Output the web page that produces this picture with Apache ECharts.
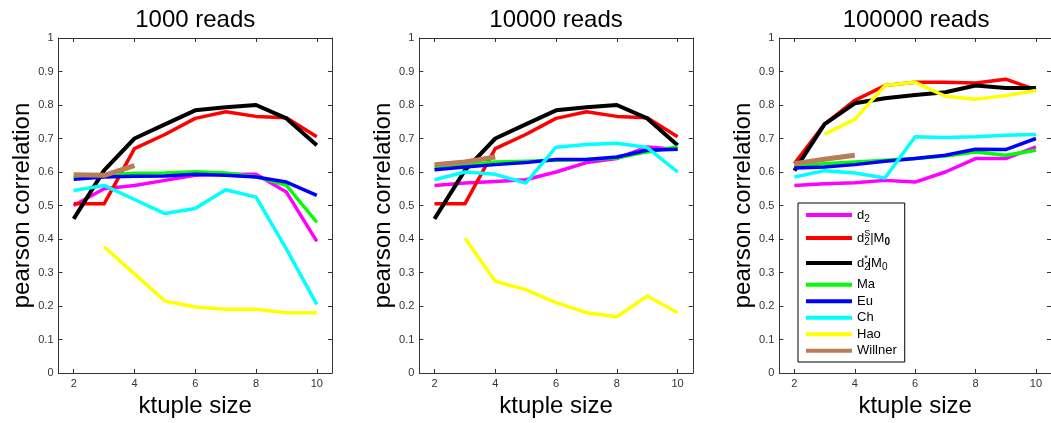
<!DOCTYPE html>
<html>
<head>
<meta charset="utf-8">
<script src="https://cdn.jsdelivr.net/npm/echarts@6/dist/echarts.min.js"></script>
<style>
  html, body { margin: 0; padding: 0; background: #fff; }
  #chart { width: 1051px; height: 423px; }
</style>
</head>
<body>
<div id="chart"></div>
<script>
// ---- data ----
const ktuple = [2, 3, 4, 5, 6, 7, 8, 9, 10];
const panelTitles = ['1000 reads', '10000 reads', '100000 reads'];
const seriesNames = ['d2', 'd2S|M0', 'd2*|M0', 'Ma', 'Eu', 'Ch', 'Hao', 'Willner'];
const xTicks = [2, 4, 6, 8, 10];

// 1000 reads
const r1_d2      = [0.500, 0.550, 0.560, 0.575, 0.590, 0.593, 0.593, 0.540, 0.393];
const r1_d2S     = [0.505, 0.505, 0.670, 0.712, 0.760, 0.780, 0.766, 0.762, 0.705];
const r1_d2star  = [0.460, 0.605, 0.700, 0.742, 0.784, 0.793, 0.800, 0.760, 0.680];
const r1_Ma      = [0.585, 0.590, 0.596, 0.597, 0.601, 0.597, 0.586, 0.560, 0.450];
const r1_Eu      = [0.578, 0.585, 0.587, 0.588, 0.593, 0.590, 0.585, 0.570, 0.530];
const r1_Ch      = [0.545, 0.560, 0.518, 0.476, 0.491, 0.547, 0.525, 0.370, 0.205];
const r1_Hao     = [null, 0.377, 0.296, 0.215, 0.197, 0.190, 0.190, 0.180, 0.180];
const r1_Willner = [0.592, 0.590, 0.619, null, null, null, null, null, null];

// 10000 reads
const r2_d2      = [0.560, 0.567, 0.572, 0.577, 0.600, 0.628, 0.640, 0.675, 0.667];
const r2_d2S     = [0.505, 0.505, 0.670, 0.712, 0.760, 0.780, 0.766, 0.762, 0.705];
const r2_d2star  = [0.460, 0.605, 0.700, 0.742, 0.784, 0.793, 0.800, 0.760, 0.680];
const r2_Ma      = [0.615, 0.620, 0.630, 0.632, 0.635, 0.637, 0.642, 0.660, 0.675];
const r2_Eu      = [0.607, 0.615, 0.622, 0.628, 0.637, 0.637, 0.645, 0.665, 0.668];
const r2_Ch      = [0.577, 0.600, 0.593, 0.567, 0.674, 0.682, 0.686, 0.673, 0.600];
const r2_Hao     = [null, 0.402, 0.274, 0.249, 0.210, 0.180, 0.168, 0.230, 0.180];
const r2_Willner = [0.622, 0.630, 0.645, null, null, null, null, null, null];

// 100000 reads
const r3_d2      = [0.560, 0.565, 0.568, 0.575, 0.570, 0.600, 0.640, 0.640, 0.675];
const r3_d2S     = [0.625, 0.743, 0.814, 0.858, 0.868, 0.868, 0.866, 0.877, 0.845];
const r3_d2star  = [0.604, 0.743, 0.805, 0.820, 0.830, 0.838, 0.858, 0.851, 0.851];
const r3_Ma      = [0.618, 0.625, 0.630, 0.635, 0.640, 0.648, 0.660, 0.650, 0.665];
const r3_Eu      = [0.612, 0.615, 0.622, 0.632, 0.640, 0.650, 0.668, 0.667, 0.700];
const r3_Ch      = [0.585, 0.604, 0.597, 0.582, 0.705, 0.703, 0.705, 0.710, 0.712];
const r3_Hao     = [null, 0.713, 0.757, 0.858, 0.868, 0.826, 0.817, 0.828, 0.843];
const r3_Willner = [0.625, 0.638, 0.650, null, null, null, null, null, null];

const panels = [
  [r1_d2, r1_d2S, r1_d2star, r1_Ma, r1_Eu, r1_Ch, r1_Hao, r1_Willner],
  [r2_d2, r2_d2S, r2_d2star, r2_Ma, r2_Eu, r2_Ch, r2_Hao, r2_Willner],
  [r3_d2, r3_d2S, r3_d2star, r3_Ma, r3_Eu, r3_Ch, r3_Hao, r3_Willner]
];

// ---- styles ----
const colors = ['#ff00ff', '#ff0000', '#000000', '#00ff00', '#0000ff', '#00ffff', '#ffff00', '#b97d5a'];
const widths = [3.5, 3.5, 4, 3.5, 3.5, 3.5, 3.5, 5];
const FONT = 'Liberation Sans, Arial, Helvetica, sans-serif';
const AX = '#333';
const gridLefts = [58.5, 419.3, 779.3];
const gridW = 273.5, gridTop = 38, gridH = 338;

const legendLabels = {
  'd2': '{h23| }d{sub|2}',
  'd2S|M0': '{h23| }d{subz|2}{sup|S}|M{subb|0}',
  'd2*|M0': '{h27| }d{subz|2}{sup|*}|M{sub|0}',
  'Ma': 'Ma', 'Eu': 'Eu', 'Ch': 'Ch', 'Hao': 'Hao', 'Willner': 'Willner'
};

const grid = [], xAxis = [], yAxis = [], series = [], title = [];
panels.forEach((vals, p) => {
  grid.push({ left: gridLefts[p], top: gridTop, width: gridW, height: gridH, containLabel: false });
  title.push({
    text: panelTitles[p], left: gridLefts[p] + gridW / 2, top: 8, textAlign: 'center', padding: 0,
    textStyle: { fontFamily: FONT, fontSize: 24, fontWeight: 'normal', color: '#000' }
  });
  xAxis.push({
    gridIndex: p, type: 'value', min: 1.5, max: 10.5, position: 'bottom',
    name: 'ktuple size', nameLocation: 'middle', nameGap: 21,
    nameTextStyle: { fontFamily: FONT, fontSize: 24, color: '#000' },
    axisLine: { show: true, onZero: false, lineStyle: { color: AX, width: 1 } },
    axisTick: { show: true, inside: true, length: 4, customValues: xTicks, lineStyle: { color: AX } },
    axisLabel: { show: true, customValues: xTicks, fontFamily: FONT, fontSize: 11, color: '#333', margin: 5 },
    splitLine: { show: false }
  });
  yAxis.push({
    gridIndex: p, type: 'value', min: 0, max: 1, interval: 0.1, position: 'left',
    name: 'pearson correlation', nameLocation: 'middle', nameGap: 24,
    nameTextStyle: { fontFamily: FONT, fontSize: 24, color: '#000' },
    axisLine: { show: true, onZero: false, lineStyle: { color: AX, width: 1 } },
    axisTick: { show: true, inside: true, length: 4, lineStyle: { color: AX } },
    axisLabel: { show: true, fontFamily: FONT, fontSize: 11, color: '#333', margin: 5 },
    splitLine: { show: false }
  });
  vals.forEach((arr, k) => {
    const data = [];
    ktuple.forEach((x, i) => { if (arr[i] !== null) data.push([x, arr[i]]); });
    series.push({
      type: 'line', name: seriesNames[k], xAxisIndex: p, yAxisIndex: p,
      data: data, showSymbol: false, symbol: 'none', silent: true, animation: false,
      lineStyle: { color: colors[k], width: widths[k], cap: 'butt', join: 'round' },
      itemStyle: { color: colors[k] }, z: 2 + k
    });
  });
});
panels.forEach((vals, p) => {
  xAxis.push({
    gridIndex: p, type: 'value', min: 1.5, max: 10.5, position: 'top',
    axisLine: { show: true, onZero: false, lineStyle: { color: AX, width: 1 } },
    axisTick: { show: true, inside: true, length: 4, customValues: xTicks, lineStyle: { color: AX } },
    axisLabel: { show: false }, splitLine: { show: false }
  });
  yAxis.push({
    gridIndex: p, type: 'value', min: 0, max: 1, interval: 0.1, position: 'right',
    axisLine: { show: true, onZero: false, lineStyle: { color: AX, width: 1 } },
    axisTick: { show: true, inside: true, length: 4, lineStyle: { color: AX } },
    axisLabel: { show: false }, splitLine: { show: false }
  });
});

const subBase = { fontFamily: FONT, fontSize: 10, color: '#000', lineHeight: 10, padding: [8, 0, 0, 0] };
const option = {
  animation: false,
  backgroundColor: '#fff',
  title: title,
  grid: grid, xAxis: xAxis, yAxis: yAxis, series: series,
  legend: {
    orient: 'vertical', left: 798, top: 203,
    data: seriesNames.map((n, k) => ({ name: n, icon: 'rect', itemStyle: { color: colors[k] } })),
    itemWidth: 46, itemHeight: 4, itemGap: 0,
    padding: [0.5, 8, 3, 8],
    backgroundColor: '#fff', borderColor: '#000', borderWidth: 1, borderRadius: 0,
    selectedMode: false,
    formatter: n => legendLabels[n],
    textStyle: {
      fontFamily: FONT, fontSize: 13, color: '#000', lineHeight: 16.5,
      rich: {
        h23: { fontSize: 1, width: 0, lineHeight: 23 },
        h27: { fontSize: 1, width: 0, lineHeight: 27 },
        sub: Object.assign({}, subBase),
        subz: Object.assign({}, subBase, { width: 0 }),
        subb: Object.assign({}, subBase, { fontWeight: 'bold' }),
        sup: { fontFamily: FONT, fontSize: 9, color: '#000', lineHeight: 10, padding: [0, 0, 8, 0] }
      }
    }
  }
};

const chart = echarts.init(document.getElementById('chart'), null, { renderer: 'canvas' });
chart.setOption(option);
</script>
</body>
</html>
